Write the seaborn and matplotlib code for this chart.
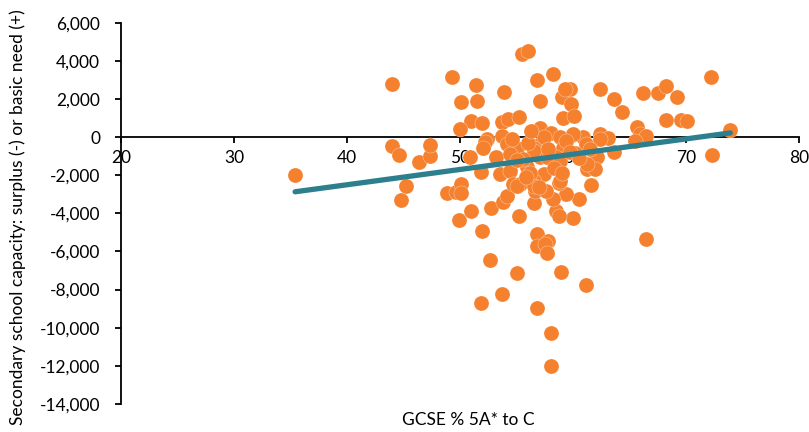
import matplotlib
matplotlib.use("Agg")
import matplotlib.pyplot as plt
import matplotlib.ticker as mticker
import numpy as np
import pandas as pd
import seaborn as sns

# GCSE % 5A* to C for each local authority
gcse = [
    35.4, 44.0, 44.0, 44.6, 45.2, 44.8, 46.4, 47.3, 47.3, 49.3,
    51.4, 50.1, 51.5, 53.9, 55.5, 56.0, 51.0, 51.9, 50.0, 53.7,
    54.2, 55.2, 53.7, 52.4, 52.2, 52.0, 50.9, 51.8, 48.8, 49.6,
    50.1, 49.9, 51.0, 51.9, 52.7, 53.8, 54.1, 55.2, 53.2, 53.5,
    54.4, 54.7, 56.8, 58.2, 57.1, 59.0, 59.7, 59.3, 59.8, 59.1,
    60.1, 62.4, 63.6, 64.3, 66.2, 65.6, 57.1, 58.0, 59.9, 60.9,
    62.4, 63.1, 72.2, 67.5, 68.2, 69.2, 68.2, 69.5, 70.1, 65.9,
    66.4, 73.9, 72.3, 66.4, 65.5, 63.6, 62.1, 61.2, 61.9, 61.6,
    60.5, 60.0, 59.4, 58.7, 58.5, 56.5, 60.0, 58.8, 61.1, 59.1,
    57.1, 56.5, 58.5, 57.1, 55.9, 57.4, 56.5, 55.3, 56.6, 54.1,
    55.0, 57.4, 59.4, 62.4, 54.4, 56.5, 57.7, 58.8, 61.2, 58.8,
    56.5, 55.0, 58.2, 58.7, 56.8, 57.8, 56.8, 52.6, 55.0, 53.7,
    51.8, 56.8, 58.0, 58.0, 58.9, 61.1, 57.5, 57.7, 60.2, 61.5,
    55.6, 57.6, 50.1, 55.0, 56.0, 57.8, 58.3, 59.7, 56.2, 54.6,
    60.5, 57.0, 59.0, 56.3, 55.8,
]

# Secondary school capacity: surplus (-) or basic need (+)
capacity = [
    -1980, 2800, -490, -940, -2570, -3300, -1300, -980, -400, 3140,
    2720, 1860, 1880, 2390, 4380, 4530, 860, 720, 410, 770,
    930, 1050, 70, -100, -280, -550, -1070, -1850, -2940, -2870,
    -2470, -4350, -3900, -4950, -3720, -3380, -3080, -4130, -1070, -1940,
    -1770, -2470, 2990, 3300, 1870, 2080, 2520, 2520, 1730, 1000,
    1120, 2520, 2020, 1330, 2290, 540, 500, 240, 120, -20,
    160, -50, 3160, 2290, 2690, 2110, 910, 910, 840, 160,
    70, 370, -940, -5330, -190, -760, -1070, -1680, -1680, -2520,
    -3260, -4220, -2990, -2430, -3870, -3480, 160, -20, -370, -550,
    -370, -550, -1070, -1070, -1590, -1940, -2290, -2470, -2820, -370,
    -550, -20, -190, -100, -890, -720, -1070, -1240, -1420, -2290,
    -2550, -2550, -3250, -4130, -5060, -5440, -5700, -6450, -7150, -8230,
    -8680, -8990, -10300, -12010, -7100, -7750, -5610, -6100, -830, -610,
    -1140, -2820, -2950, -1200, -300, -600, -1600, -800, -1900, -100,
    -1100, -2600, -1900, 300, -2100,
]

# Linear trend fitted to the series
trend_x = [35.4, 73.9]
trend_slope = 80.2
trend_intercept = -5708

x_ticks = [20, 30, 40, 50, 60, 70, 80]
y_ticks = list(range(-14000, 6001, 2000))

df = pd.DataFrame({"gcse": gcse, "capacity": capacity})
trend = pd.DataFrame({
    "x": trend_x,
    "y": [trend_intercept + trend_slope * v for v in trend_x],
})

sns.set_theme(style="white")
plt.rcParams["font.family"] = ["Lato", "DejaVu Sans"]

fig = plt.figure(figsize=(8.09, 4.32), dpi=100)
ax = fig.add_axes([0.1496, 0.0648, 0.8384, 0.8827])

sns.scatterplot(data=df, x="gcse", y="capacity", ax=ax, color="#F5812F",
                s=118, edgecolor="white", linewidth=0.2, zorder=3)
sns.lineplot(data=trend, x="x", y="y", ax=ax, color="#2E7F8E",
             linewidth=3.8, zorder=4, solid_capstyle="round")

ax.set_xlim(20, 80)
ax.set_ylim(-14000, 6000)
ax.set_xticks(x_ticks)
ax.set_yticks(y_ticks)
ax.yaxis.set_major_formatter(mticker.FuncFormatter(lambda v, p: f"{int(v):,}"))

for side in ("top", "right"):
    ax.spines[side].set_visible(False)
ax.spines["bottom"].set_position(("data", 0))
for side in ("left", "bottom"):
    ax.spines[side].set_color("black")
    ax.spines[side].set_linewidth(1.3)

ax.tick_params(axis="both", which="major", direction="out", length=4,
               width=1.3, color="black", labelsize=12.5, labelcolor="black",
               left=True, bottom=True)
ax.tick_params(axis="y", pad=11)
ax.tick_params(axis="x", pad=5)

ax.set_xlabel("GCSE % 5A* to C", fontsize=12.5, color="black")
ax.xaxis.set_label_coords(0.512, -0.022)
ax.set_ylabel("Secondary school capacity: surplus (-) or basic need (+)",
              fontsize=12.5, color="black")
ax.yaxis.set_label_coords(-0.14, 0.49)

fig.savefig("out.png", dpi=100)
